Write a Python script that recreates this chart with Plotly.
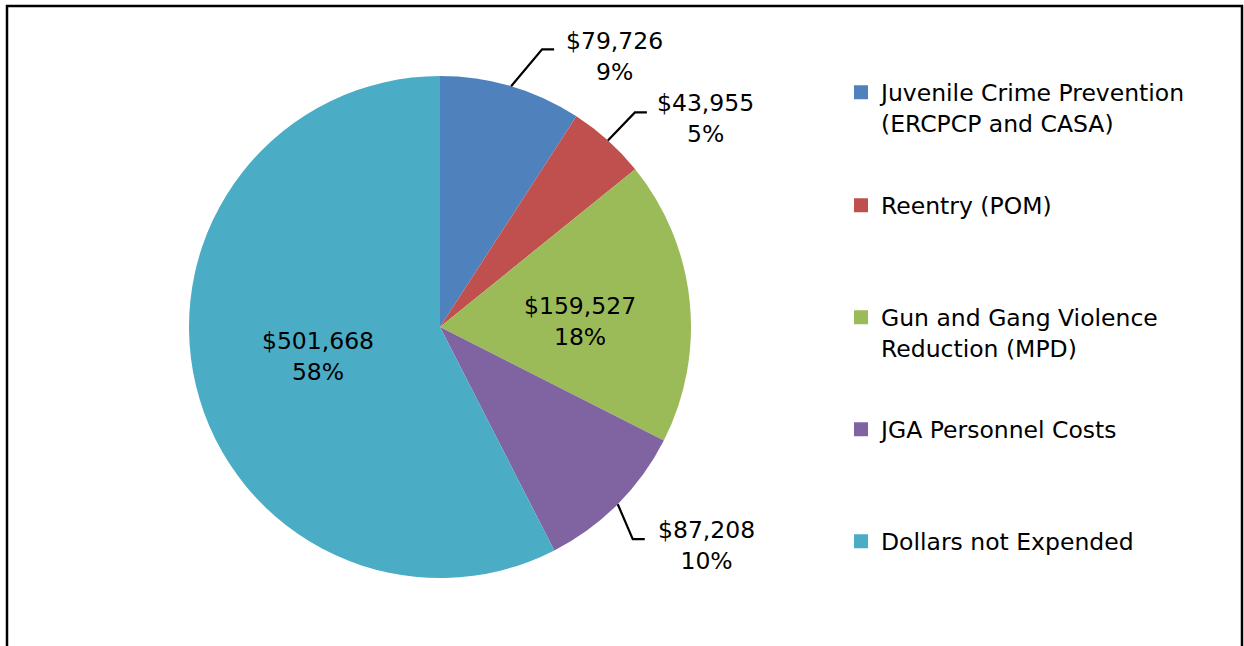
import math
import plotly.graph_objects as go

# ---- data ----
labels = ["Juvenile Crime Prevention (ERCPCP and CASA)", "Reentry (POM)",
          "Gun and Gang Violence Reduction (MPD)", "JGA Personnel Costs",
          "Dollars not Expended"]
legend_names = ["Juvenile Crime Prevention<br>(ERCPCP and CASA)", "Reentry (POM)",
                "Gun and Gang Violence<br>Reduction (MPD)", "JGA Personnel Costs",
                "Dollars not Expended"]
values = [79726, 43955, 159527, 87208, 501668]
colors = ["#4F81BD", "#C0504D", "#9BBB59", "#8064A2", "#4BACC6"]

# ---- layout / style constants ----
W, H = 1244, 646
CX, CY, R = 440, 327, 251
FONT = "DejaVu Sans"
FS = 23.5
text_pos = ["none", "none", "none", "none", "inside"]
# outside label styling: (elbow dx, elbow dy, tail dx, label dx, label dy) relative to slice edge
leader_style = {0: (31, -37, 12, 103, -30), 1: (27, -28, 12, 98, -22), 3: (15, 35, 12, 89, 41)}
# inside label styling for slices drawn as annotations: (radius fraction, extra dx, extra dy)
inside_style = {2: (0.56, 0, 9)}
legend_text_y = [94, 207, 319, 431, 543]
legend_text_x = 881


def px(x):
    return x / W


def py(y):
    return 1 - y / H


fig = go.Figure()
fig.add_trace(go.Pie(
    labels=labels, values=values, sort=False, direction="clockwise", rotation=0,
    marker=dict(colors=colors, line=dict(width=0)),
    texttemplate="$%{value:,}<br>%{percent:.0%}",
    textposition=text_pos, insidetextorientation="horizontal",
    textfont=dict(family=FONT, size=FS, color="black"),
    domain=dict(x=[px(CX - R), px(CX + R)], y=[py(CY + R), py(CY - R)]),
    showlegend=False, hoverinfo="label+value+percent",
))

total = sum(values)
cum = 0
shapes = []
annotations = []
for i, v in enumerate(values):
    mid = (cum + v / 2) / total * 2 * math.pi
    cum += v
    pct = round(v / total * 100)
    txt = f"${v:,}<br>{pct}%"
    font = dict(family=FONT, size=FS, color="black")
    if i in inside_style:
        rf, dx, dy = inside_style[i]
        lx = CX + rf * R * math.sin(mid) + dx
        ly = CY - rf * R * math.cos(mid) + dy
        annotations.append(dict(xref="paper", yref="paper", x=px(lx), y=py(ly), text=txt,
                                showarrow=False, xanchor="center", yanchor="middle", font=font))
    if i not in leader_style:
        continue
    ex, ey = CX + R * math.sin(mid), CY - R * math.cos(mid)
    edx, edy, tail, ldx, ldy = leader_style[i]
    bx, by = ex + edx, ey + edy
    tx = bx + tail
    shapes.append(dict(type="path", xref="paper", yref="paper",
                       path=f"M {px(ex)},{py(ey)} L {px(bx)},{py(by)} L {px(tx)},{py(by)}",
                       line=dict(color="black", width=2.2)))
    annotations.append(dict(xref="paper", yref="paper", x=px(ex + ldx), y=py(ey + ldy),
                            text=txt, showarrow=False, xanchor="center", yanchor="middle",
                            font=font))

# chart border (open at bottom, as in the reference crop)
shapes.append(dict(type="path", xref="paper", yref="paper",
                   path=f"M {px(7)},{py(700)} L {px(7)},{py(6)} L {px(1242)},{py(6)} L {px(1242)},{py(700)}",
                   line=dict(color="black", width=2.5)))

# legend entries (one legend per entry to reproduce Excel's even spacing)
legend_layouts = {}
for i, (name, col) in enumerate(zip(legend_names, colors)):
    key = "legend" if i == 0 else f"legend{i + 1}"
    fig.add_trace(go.Scatter(x=[None], y=[None], mode="markers", name=name,
                             marker=dict(symbol="square", size=14, color=col),
                             legend=key, showlegend=True, hoverinfo="skip"))
    legend_layouts[key] = dict(x=px(legend_text_x - 40), y=py(legend_text_y[i] - FS),
                               xanchor="left", yanchor="top", valign="top",
                               bgcolor="rgba(0,0,0,0)", borderwidth=0,
                               font=dict(family=FONT, size=FS, color="black"))

fig.update_layout(
    width=W, height=H, margin=dict(l=0, r=0, t=0, b=0),
    paper_bgcolor="white", plot_bgcolor="white",
    xaxis=dict(visible=False), yaxis=dict(visible=False),
    shapes=shapes, annotations=annotations,
    font=dict(family=FONT, size=FS, color="black"),
    **legend_layouts,
)

fig.write_html("out.html")
